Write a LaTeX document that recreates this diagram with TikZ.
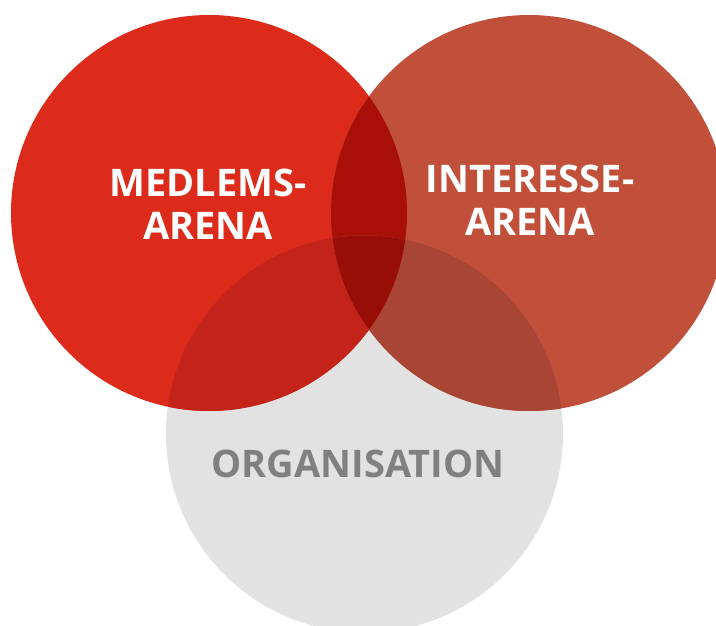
\documentclass[tikz,border=0pt]{standalone}
\usepackage{fontspec}
\setmainfont{Open Sans}
\usepackage{tikz}

\definecolor{medred}{HTML}{DC2A1B}
\definecolor{intred}{HTML}{C1503B}
\definecolor{orggray}{HTML}{E1E2E1}
\definecolor{medint}{HTML}{A90F09}
\definecolor{medorg}{HTML}{C4231A}
\definecolor{intorg}{HTML}{A94534}
\definecolor{allthree}{HTML}{990D07}
\definecolor{orgtext}{HTML}{808080}

\tikzset{
  arena/.style={align=center, inner sep=0pt, font=\bfseries\fontsize{38}{43}\selectfont}
}

\begin{document}
\begin{tikzpicture}[x=1pt,y=-1pt]
\useasboundingbox (0,0) rectangle (716,626);
\clip (0,0) rectangle (716,626);
\def\medc{(209,213) circle (198)}
\def\intc{(529,213) circle (198)}
\def\orgc{(364.5,434) circle (198.5)}
%% kretsar;
\fill[orggray] \orgc;
\fill[medred] \medc;
\fill[intred] \intc;
%% overlapp;
\begin{scope}
\clip \medc;
\fill[medint] \intc;
\fill[medorg] \orgc;
\end{scope}
\begin{scope}
\clip \intc;
\fill[intorg] \orgc;
\end{scope}
\begin{scope}
\clip \medc;
\clip \intc;
\fill[allthree] \orgc;
\end{scope}
%% texter;
\node[arena, white] (medlem) at (208,204) {MEDLEMS-\\ARENA};
\node[arena, white] (intresse) at (530,200) {INTERESSE-\\ARENA};
\node[arena, orgtext] (org) at (358,464) {ORGANISATION};
\end{tikzpicture}
\end{document}
